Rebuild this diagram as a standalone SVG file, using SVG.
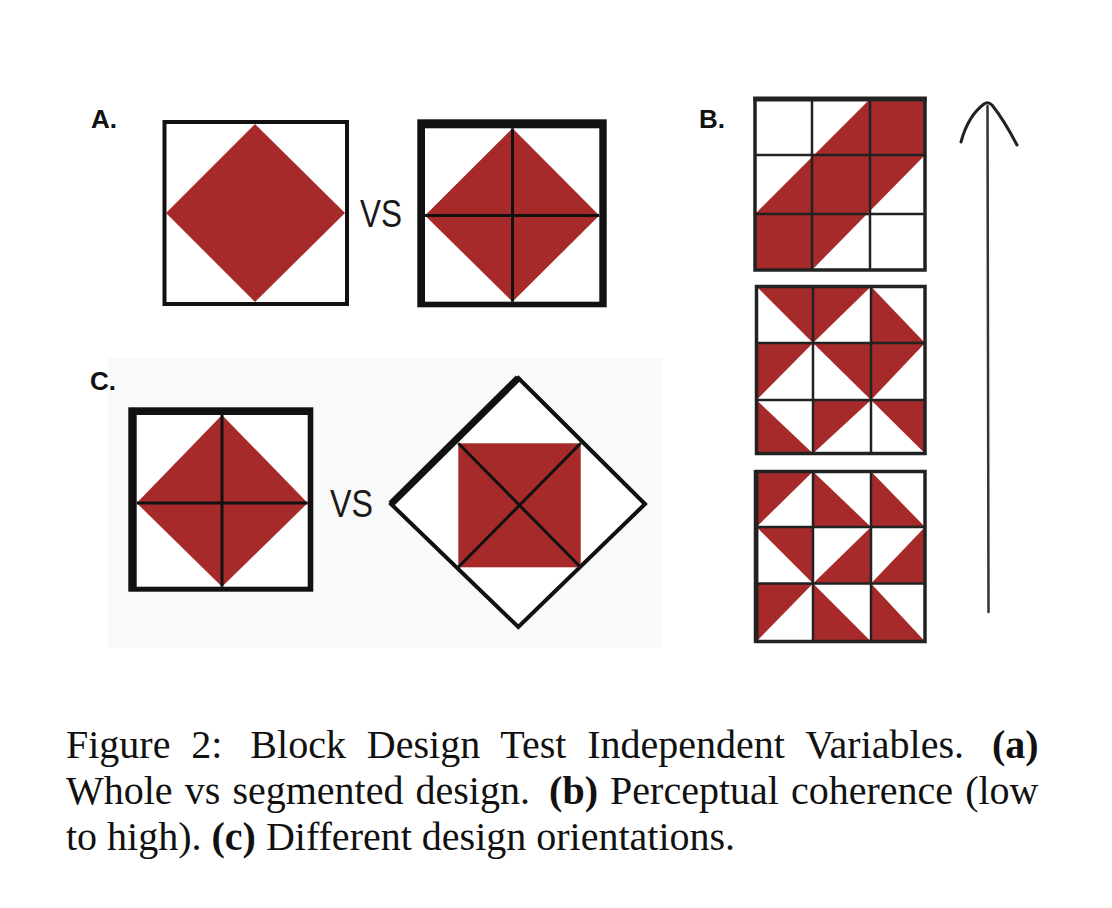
<svg xmlns="http://www.w3.org/2000/svg" width="1112" height="908" viewBox="0 0 1112 908">
<style>
.red{fill:#a62a2a}
.lbl{font-family:"Liberation Sans",Arial,sans-serif;font-weight:bold;font-size:26px;fill:#111}
.vs{font-family:"Liberation Sans",Arial,sans-serif;font-size:38px;fill:#1a1a1a}
.cap{font-family:"Liberation Serif","Times New Roman",serif;font-size:40px;fill:#111}
.b{font-weight:bold}
.ln{stroke:#111;stroke-width:3;fill:none}
.gl{stroke:#222;stroke-width:2.5;fill:none}
.gb{stroke:#222;stroke-width:3.5;fill:none}
</style>
<rect x="0" y="0" width="1112" height="908" fill="#ffffff"/>
<rect x="108" y="358" width="554" height="290" fill="#f9f9f9"/>

<g id="panel-A">
  <text class="lbl" x="91" y="128">A.</text>
  <g id="A-whole">
    <rect x="164.5" y="122" width="182.5" height="182" fill="#fff" stroke="#111" stroke-width="4"/>
    <polygon class="red" points="255,124 345,213 255,302 166,213"/>
  </g>
  <text class="vs" x="360" y="227" textLength="42" lengthAdjust="spacingAndGlyphs">VS</text>
  <g id="A-segmented">
    <rect x="417.3" y="119.3" width="189.4" height="188" fill="#111"/>
    <rect x="425" y="128.3" width="174.3" height="173.4" fill="#fff"/>
    <polygon class="red" points="512.5,128.3 599.3,215.5 512.5,301.7 425,215.5"/>
    <line class="ln" x1="512.5" y1="128.3" x2="512.5" y2="301.7"/>
    <line class="ln" x1="425" y1="215.5" x2="599.3" y2="215.5"/>
  </g>
</g>

<g id="panel-C">
  <text class="lbl" x="90" y="390">C.</text>
  <g id="C-upright">
    <rect x="128.3" y="407.3" width="185" height="184.4" fill="#111"/>
    <rect x="136.7" y="415" width="171" height="171.7" fill="#fff"/>
    <polygon class="red" points="222,415 307.7,503 222,586.7 136.7,503"/>
    <line class="ln" x1="222" y1="415" x2="222" y2="586.7"/>
    <line class="ln" x1="136.7" y1="503" x2="307.7" y2="503"/>
  </g>
  <text class="vs" x="330" y="517" textLength="43" lengthAdjust="spacingAndGlyphs">VS</text>
  <g id="C-rotated">
    <polygon points="518.3,378 645,504 518.3,627 391,504" fill="#fff" stroke="#111" stroke-width="4" stroke-linejoin="miter"/>
    <line x1="391" y1="504" x2="518.3" y2="378" stroke="#111" stroke-width="7" stroke-linecap="butt"/>
    <rect class="red" x="458.3" y="443.3" width="122.4" height="124"/>
    <line class="ln" x1="458.3" y1="443.3" x2="580.7" y2="567.3"/>
    <line class="ln" x1="580.7" y1="443.3" x2="458.3" y2="567.3"/>
  </g>
</g>

<g id="panel-B">
  <text class="lbl" x="699" y="128">B.</text>
  <g id="B-high">
    <rect x="755" y="99" width="170" height="171" fill="#fff"/>
    <polygon class="red" points="755,214 870,99 925,99 925,155 812,270 755,270"/>
    <line class="gl" x1="812" y1="99" x2="812" y2="270"/>
    <line class="gl" x1="870" y1="99" x2="870" y2="270"/>
    <line class="gl" x1="755" y1="155" x2="925" y2="155"/>
    <line class="gl" x1="755" y1="214" x2="925" y2="214"/>
    <rect class="gb" x="755" y="99" width="170" height="171"/>
    <line x1="753.3" y1="99" x2="926.7" y2="99" stroke="#222" stroke-width="5"/>
  </g>
  <g id="B-mid">
    <rect x="756.5" y="286.5" width="168.5" height="167" fill="#fff"/>
    <polygon class="red" points="756.5,286.5 813,286.5 813,343"/>
    <polygon class="red" points="813,286.5 871,286.5 813,343"/>
    <polygon class="red" points="871,286.5 871,343 925,343"/>
    <polygon class="red" points="756.5,343 813,343 756.5,400"/>
    <polygon class="red" points="813,343 871,343 871,400"/>
    <polygon class="red" points="871,343 925,343 871,400"/>
    <polygon class="red" points="756.5,400 756.5,453.5 813,453.5"/>
    <polygon class="red" points="813,400 871,400 813,453.5"/>
    <polygon class="red" points="871,400 925,400 925,453.5"/>
    <line class="gl" x1="813" y1="286.5" x2="813" y2="453.5"/>
    <line class="gl" x1="871" y1="286.5" x2="871" y2="453.5"/>
    <line class="gl" x1="756.5" y1="343" x2="925" y2="343"/>
    <line class="gl" x1="756.5" y1="400" x2="925" y2="400"/>
    <rect class="gb" x="756.5" y="286.5" width="168.5" height="167"/>
  </g>
  <g id="B-low">
    <rect x="756.5" y="471.5" width="168.5" height="170" fill="#fff"/>
    <polygon class="red" points="756.5,471.5 813,471.5 756.5,527"/>
    <polygon class="red" points="813,471.5 813,527 871,527"/>
    <polygon class="red" points="871,471.5 871,527 925,527"/>
    <polygon class="red" points="756.5,527 813,527 813,583.5"/>
    <polygon class="red" points="871,527 871,583.5 813,583.5"/>
    <polygon class="red" points="925,527 925,583.5 871,583.5"/>
    <polygon class="red" points="756.5,583.5 813,583.5 756.5,641.5"/>
    <polygon class="red" points="813,583.5 813,641.5 871,641.5"/>
    <polygon class="red" points="871,583.5 871,641.5 925,641.5"/>
    <line class="gl" x1="813" y1="471.5" x2="813" y2="641.5"/>
    <line class="gl" x1="871" y1="471.5" x2="871" y2="641.5"/>
    <line class="gl" x1="756.5" y1="527" x2="925" y2="527"/>
    <line class="gl" x1="756.5" y1="583.5" x2="925" y2="583.5"/>
    <rect class="gb" x="756.5" y="471.5" width="168.5" height="170"/>
    <line x1="756" y1="470" x2="756" y2="643" stroke="#222" stroke-width="4.5"/>
  </g>
</g>

<g id="connectors">
  <path d="M987.5,106 L988.5,612" stroke="#333" stroke-width="2.5" fill="none" stroke-linecap="round"/>
  <path d="M961,142 Q968,116 984,104 Q988,101 992,105 Q1004,120 1017,145" stroke="#222" stroke-width="3" fill="none" stroke-linecap="round"/>
</g>

<g id="caption">
  <text class="cap" x="66" y="758" word-spacing="10.9">Figure 2: <tspan dx="7">Block</tspan> Design Test Independent Variables. <tspan class="b" dx="7">(a)</tspan></text>
  <text class="cap" x="66" y="804" word-spacing="2.1">Whole vs segmented design. <tspan class="b" dx="7">(b)</tspan> Perceptual coherence (low</text>
  <text class="cap" x="66" y="850">to high). <tspan class="b">(c)</tspan> Different design orientations.</text>
</g>
</svg>
